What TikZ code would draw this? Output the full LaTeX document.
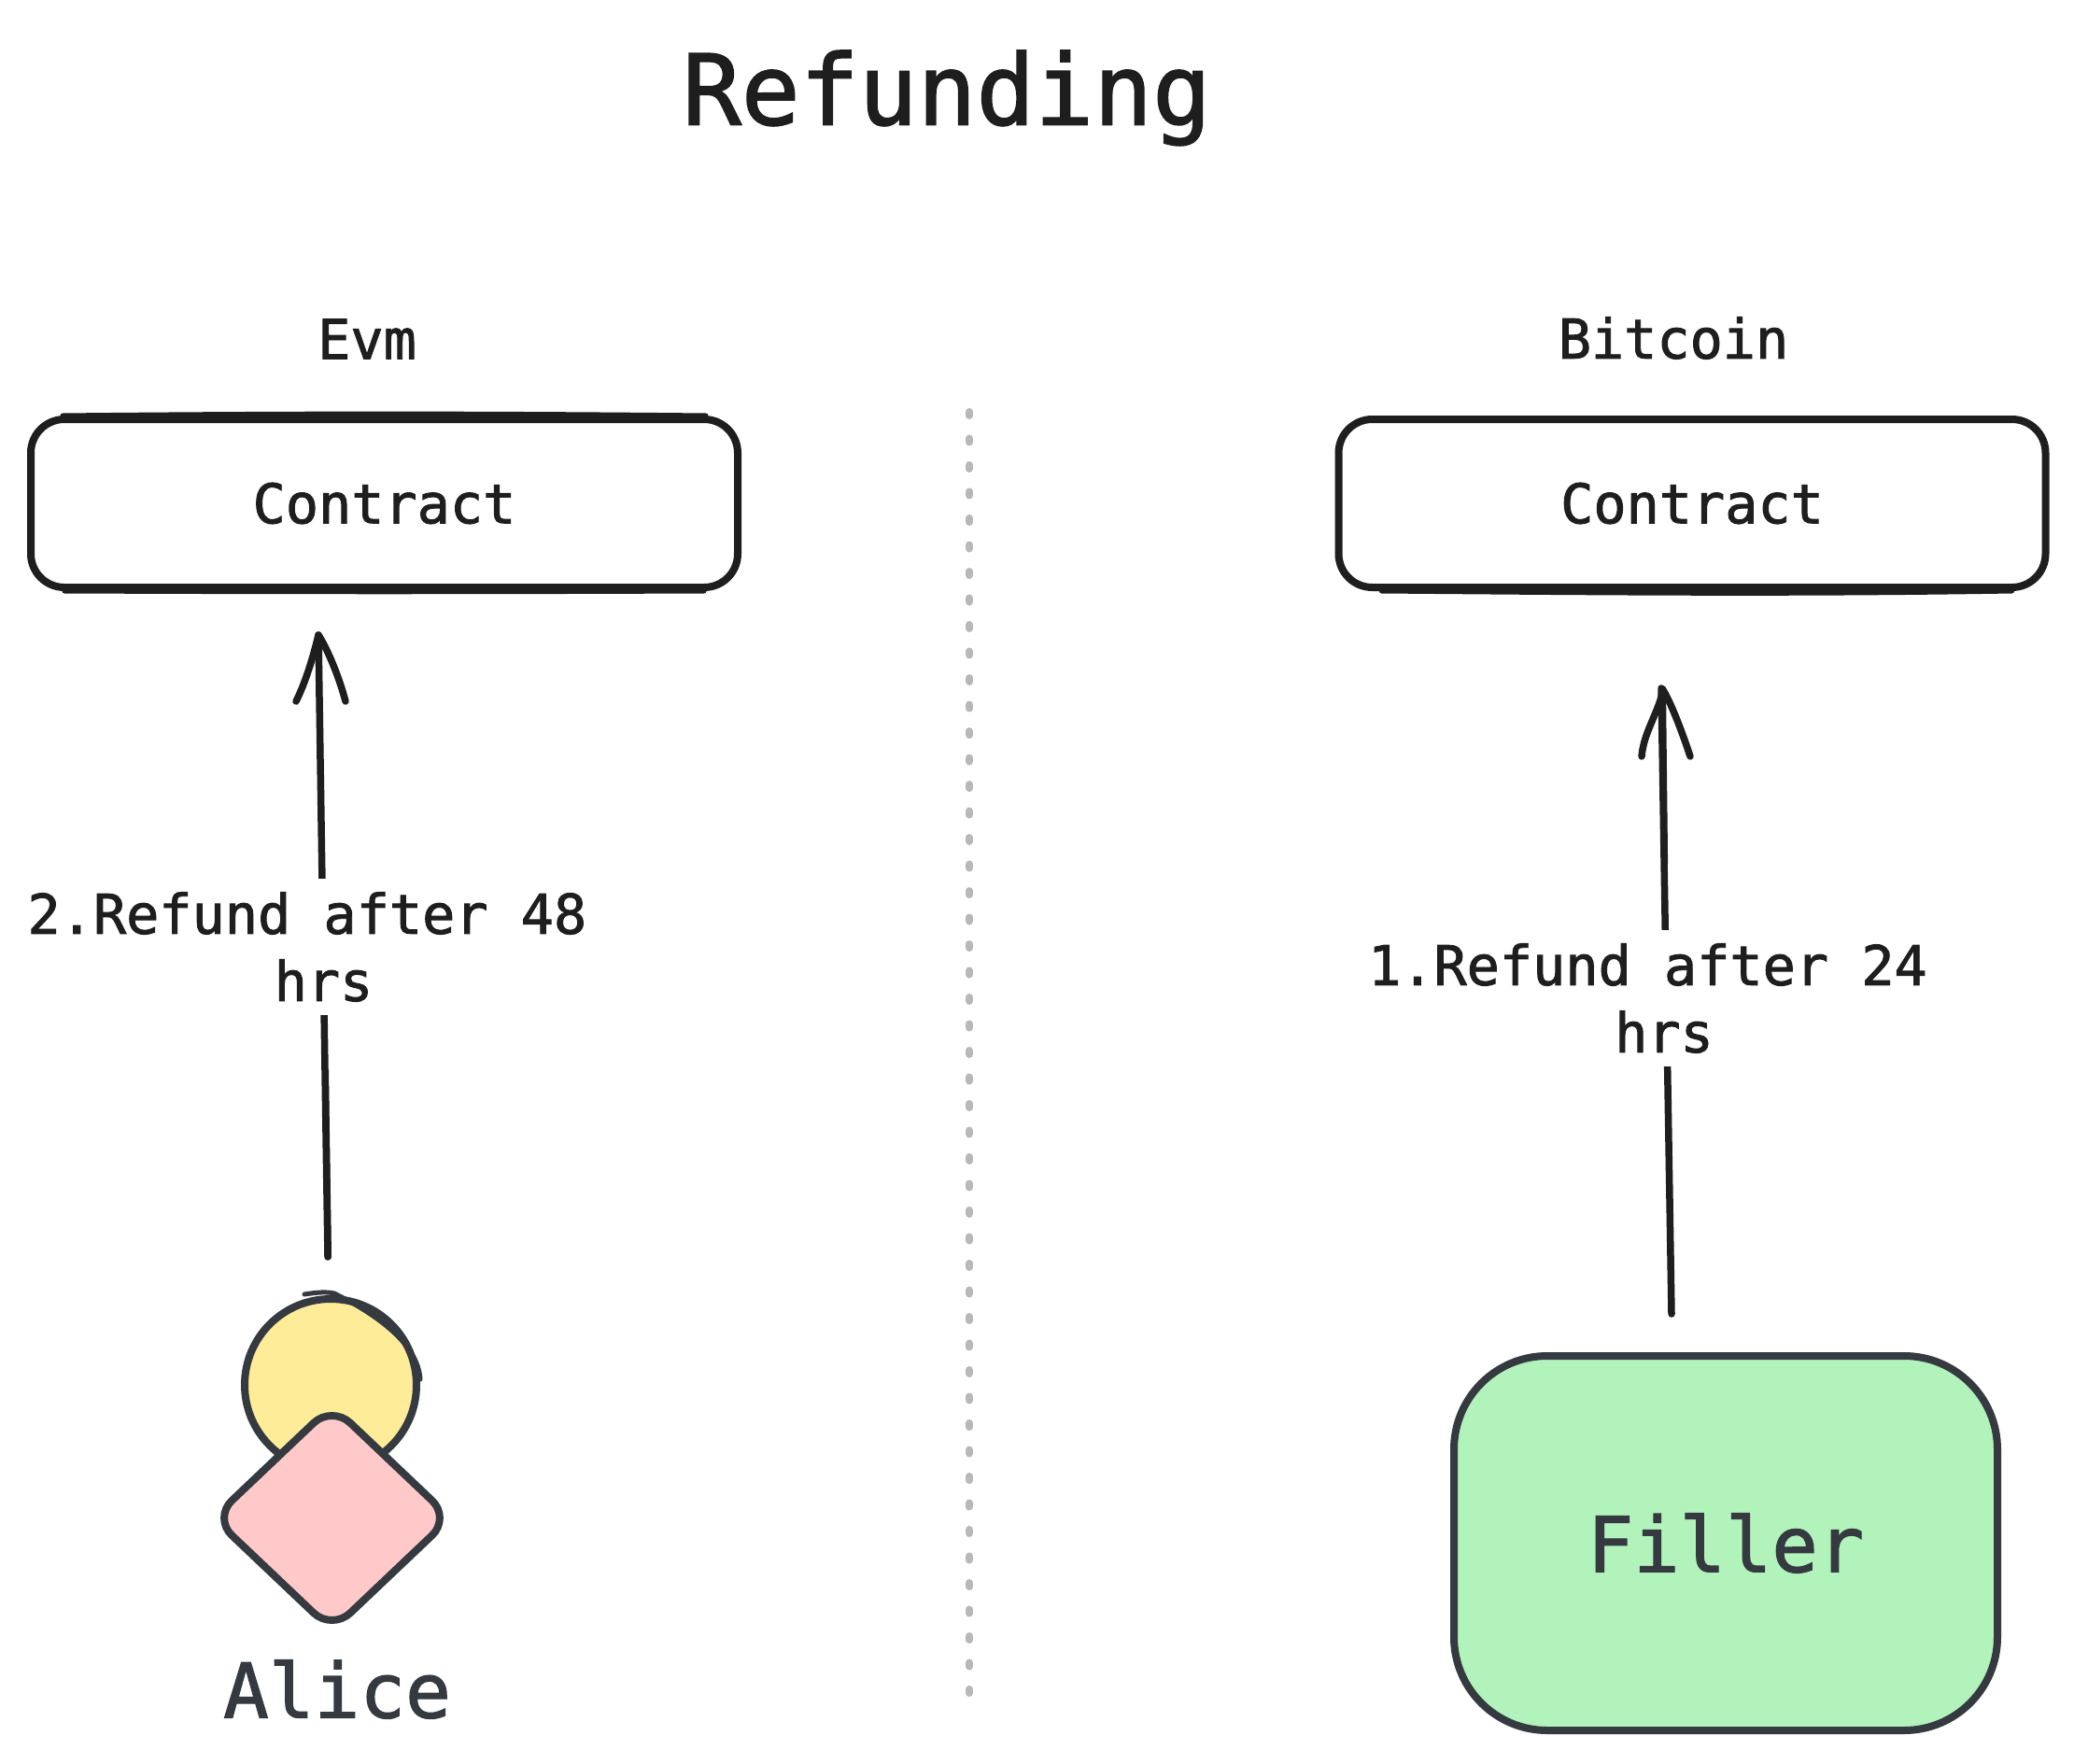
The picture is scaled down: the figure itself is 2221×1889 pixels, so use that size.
\documentclass[tikz,border=0pt]{standalone}
\usepackage{fontspec}
\setmainfont[FakeBold=1.6]{DejaVu Sans Mono}
\usetikzlibrary{shapes.geometric,calc}
\definecolor{ink}{HTML}{1E1E1E}
\definecolor{slate}{HTML}{343A40}
\definecolor{mint}{HTML}{B2F2BB}
\definecolor{butter}{HTML}{FFEC99}
\definecolor{blush}{HTML}{FFC9C9}
\definecolor{dots}{HTML}{B8B8B8}
\tikzset{
  contractbox/.style={draw=ink,line width=8pt,rounded corners=36pt,minimum width=757pt,minimum height=180pt,inner sep=0pt,text=ink,font=\fontsize{58.5}{70}\selectfont},
  plainlabel/.style={text=ink,inner sep=0pt,font=\fontsize{58.5}{70}\selectfont},
  conn/.style={draw=ink,line width=7.5pt,line cap=round,line join=round},
  sketch/.style={line width=5pt,line cap=round},
  steplabel/.style={fill=white,text=ink,align=center,inner sep=0pt,minimum height=146pt,font=\fontsize{58.5}{72}\selectfont},
}
\begin{document}
\begin{tikzpicture}[x=1pt,y=-1pt]
\useasboundingbox (0,0) rectangle (2221,1889);
\fill[white] (0,0) rectangle (2221,1889);

% title
\node[text=ink,inner sep=0pt,font=\fontsize{104.5}{120}\selectfont] (title) at (1014,105) {Refunding};

% divider
\coordinate (divtop) at (1038,441);
\coordinate (divbot) at (1038,1814);
\draw[dots,line width=8pt,line cap=round,dash pattern=on 4pt off 24.5pt] (divtop) -- (divbot);

% chain headings
\node[plainlabel] (evm) at (393,363) {Evm};
\node[plainlabel] (btc) at (1792,362) {Bitcoin};

% contract boxes
\node[contractbox] (c1) at (411.5,539) {Contract};
\node[contractbox] (c2) at (1812,539) {Contract};
\draw[ink,sketch] ($(c1.north west)+(38,0)$) .. controls ($(c1.north)+(-100,-2.5)$) and ($(c1.north)+(100,-2.5)$) .. ($(c1.north east)+(-38,0)$);
\draw[ink,sketch] ($(c1.south west)+(40,0)$) .. controls ($(c1.south)+(-100,1)$) and ($(c1.south)+(100,1)$) .. ($(c1.south east)+(-40,0)$);
\draw[ink,sketch] ($(c2.south west)+(50,0)$) .. controls ($(c2.south)+(-100,2)$) and ($(c2.south)+(100,4)$) .. ($(c2.south east)+(-40,0)$);

% Alice
\node[circle,draw=slate,fill=butter,line width=8pt,minimum size=184pt,inner sep=0pt] (head) at (354,1483) {};
\draw[slate,line width=5pt,line cap=round] ($(head.north)+(-28,-1)$) .. controls ($(head.north)+(-15,-3)$) and ($(head.north)+(-5,-4)$) .. ($(head.north)+(4,-2)$) .. controls ($(head.north east)+(-10,-3)$) and ($(head.east)+(-2,-40)$) .. ($(head.east)+(0,-6)$);
\node[diamond,aspect=1.06,draw=slate,fill=blush,line width=8pt,minimum width=257pt,minimum height=244pt,inner sep=0pt,rounded corners=27pt] (body) at (355.5,1625.5) {};
\node[text=slate,inner sep=0pt,font=\fontsize{81}{96}\selectfont] (alice) at (361,1809) {Alice};

% Filler
\node[draw=slate,fill=mint,line width=8pt,rounded corners=100pt,minimum width=582pt,minimum height=401pt,inner sep=0pt,text=slate,font=\fontsize{82}{96}\selectfont] (filler) at (1848,1652.5) {Filler};

% arrows
\coordinate (a1s) at (351,1346);
\coordinate (a1t) at (341,680);
\coordinate (a1l) at (317,751);
\coordinate (a1r) at (370,751);
\coordinate (a2s) at (1790,1407);
\coordinate (a2t) at (1779,737);
\coordinate (a2l) at (1758,810);
\coordinate (a2r) at (1810,810);

\draw[conn] (a1s) -- (a1t);
\draw[conn,line width=5pt] ($(a1s)+(1.5,0)$) -- ($(a1s)!0.3!(a1t)+(1.5,0)$);
\draw[conn] (a1l) .. controls ($(a1l)+(10,-20)$) and ($(a1t)+(-6,25)$) .. (a1t) .. controls ($(a1t)+(8,12)$) and ($(a1r)+(-8,-30)$) .. (a1r);

\draw[conn] (a2s) -- (a2t);
\draw[conn,line width=5pt] ($(a2t)+(2.5,0)$) -- ($(a2t)!0.28!(a2s)+(1.5,0)$);
\draw[conn] (a2l) .. controls ($(a2l)+(2,-25)$) and ($(a2t)+(-4,28)$) .. ($(a2t)+(2,2)$) .. controls ($(a2t)+(10,15)$) and ($(a2r)+(-10,-30)$) .. (a2r);

% step labels (sit over the arrows and break them)
\node[steplabel] (l1) at (346.5,1014) {2.Refund after 48\phantom{x}\\hrs};
\node[steplabel] (l2) at (1782,1069) {1.Refund after 24\phantom{x}\\hrs};
\end{tikzpicture}
\end{document}
